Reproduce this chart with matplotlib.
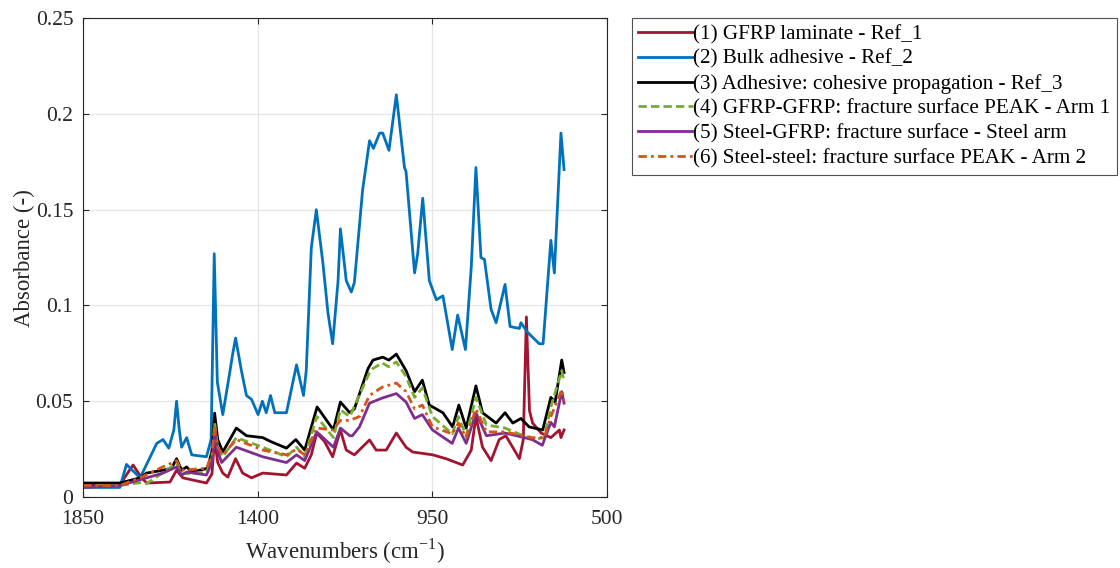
import matplotlib.pyplot as plt
from matplotlib.ticker import FixedLocator

# FTIR spectra, absorbance vs wavenumber (cm^-1)
wn_ref1 = [1850, 1755, 1747, 1721, 1699, 1686, 1626, 1609, 1593, 1532, 1518, 1511, 1503, 1490, 1477,
           1457, 1439, 1416, 1387, 1326, 1300, 1279, 1262, 1248, 1228, 1207, 1187, 1172, 1151, 1112,
           1095, 1069, 1043, 1018, 1001, 949, 915, 872, 850, 838, 821, 799, 778, 761, 739, 726, 716,
           708, 700, 692, 670, 645, 623, 619, 611]
ab_ref1 = [0.006, 0.006, 0.0089, 0.0167, 0.010, 0.0073, 0.0078, 0.014, 0.010, 0.0073, 0.012, 0.030,
           0.018, 0.0125, 0.0104, 0.020, 0.0125, 0.010, 0.0125, 0.0115, 0.0177, 0.015, 0.022, 0.0334,
           0.029, 0.021, 0.035, 0.0245, 0.022, 0.0298, 0.0245, 0.0245, 0.0334, 0.026, 0.0235, 0.022,
           0.020, 0.0167, 0.0245, 0.042, 0.026, 0.019, 0.030, 0.032, 0.0245, 0.020, 0.030, 0.094,
           0.045, 0.0386, 0.0334, 0.031, 0.035, 0.031, 0.035]

wn_ref2 = [1850, 1755, 1738, 1703, 1660, 1644, 1629, 1616, 1609, 1602, 1596, 1583, 1570, 1532, 1520,
           1512, 1504, 1490, 1472, 1465, 1457, 1442, 1429, 1416, 1399, 1388, 1378, 1367, 1356, 1326,
           1300, 1282, 1275, 1262, 1249, 1232, 1219, 1207, 1193, 1187, 1172, 1159, 1151, 1130, 1112,
           1102, 1086, 1078, 1062, 1043, 1022, 1018, 996, 988, 975, 958, 940, 923, 899, 885, 865,
           850, 838, 825, 816, 799, 786, 763, 750, 726, 722, 705, 675, 665, 645, 636, 619, 611]
ab_ref2 = [0.005, 0.005, 0.017, 0.010, 0.028, 0.030, 0.0255, 0.035, 0.050, 0.035, 0.026, 0.031,
           0.022, 0.021, 0.030, 0.127, 0.060, 0.043, 0.065, 0.074, 0.083, 0.066, 0.053, 0.051, 0.043,
           0.050, 0.044, 0.053, 0.044, 0.044, 0.069, 0.053, 0.066, 0.130, 0.150, 0.122, 0.096, 0.080,
           0.113, 0.140, 0.113, 0.107, 0.112, 0.160, 0.186, 0.182, 0.190, 0.190, 0.181, 0.210, 0.172,
           0.170, 0.117, 0.127, 0.156, 0.113, 0.103, 0.105, 0.077, 0.095, 0.077, 0.120, 0.172, 0.125,
           0.124, 0.098, 0.091, 0.111, 0.089, 0.088, 0.091, 0.086, 0.080, 0.080, 0.134, 0.117, 0.190,
           0.171]

wn_ref3 = [1850, 1755, 1703, 1686, 1644, 1622, 1609, 1596, 1583, 1570, 1529, 1518, 1511, 1503, 1490,
           1455, 1429, 1387, 1367, 1326, 1302, 1279, 1247, 1205, 1187, 1163, 1151, 1116, 1103, 1078,
           1062, 1043, 1018, 996, 976, 958, 923, 898, 882, 863, 838, 821, 786, 763, 743, 722, 701,
           666, 645, 634, 617, 611]
ab_ref3 = [0.0073, 0.0073, 0.010, 0.0125, 0.014, 0.015, 0.020, 0.014, 0.0157, 0.013, 0.015, 0.024,
           0.0438, 0.030, 0.0235, 0.036, 0.032, 0.031, 0.029, 0.0255, 0.030, 0.0245, 0.047, 0.035,
           0.0496, 0.044, 0.046, 0.067, 0.0715, 0.073, 0.0715, 0.0746, 0.066, 0.055, 0.061, 0.048,
           0.044, 0.0366, 0.048, 0.036, 0.058, 0.044, 0.0386, 0.044, 0.0386, 0.041, 0.0366, 0.035,
           0.052, 0.0496, 0.0715, 0.065]

wn_arm1 = [1850, 1755, 1703, 1686, 1660, 1609, 1596, 1532, 1518, 1511, 1503, 1490, 1455, 1387, 1326,
           1300, 1279, 1248, 1205, 1187, 1163, 1112, 1104, 1079, 1063, 1043, 1018, 996, 976, 950,
           899, 883, 863, 838, 811, 763, 693, 662, 645, 617, 611]
ab_arm1 = [0.006, 0.006, 0.0075, 0.007, 0.0105, 0.0177, 0.012, 0.013, 0.020, 0.0386, 0.026, 0.021,
           0.031, 0.026, 0.021, 0.026, 0.021, 0.042, 0.031, 0.0455, 0.042, 0.065, 0.067, 0.070, 0.068,
           0.0705, 0.063, 0.052, 0.057, 0.042, 0.033, 0.042, 0.032, 0.052, 0.0376, 0.036, 0.030, 0.031,
           0.047, 0.066, 0.060]

wn_steel = [1850, 1755, 1686, 1644, 1609, 1596, 1583, 1532, 1518, 1511, 1503, 1493, 1455, 1387,
            1326, 1300, 1279, 1248, 1205, 1187, 1163, 1156, 1138, 1112, 1079, 1043, 1018, 996, 976,
            950, 899, 883, 863, 838, 811, 763, 693, 667, 645, 636, 617, 611]
ab_steel = [0.005, 0.006, 0.010, 0.0125, 0.0157, 0.0115, 0.013, 0.0115, 0.018, 0.034, 0.024, 0.018,
            0.026, 0.021, 0.018, 0.022, 0.019, 0.034, 0.026, 0.036, 0.032, 0.032, 0.0366, 0.049,
            0.0517, 0.054, 0.0496, 0.041, 0.043, 0.035, 0.028, 0.036, 0.028, 0.044, 0.032, 0.0334,
            0.030, 0.027, 0.039, 0.0366, 0.055, 0.049]

wn_arm2 = [1850, 1755, 1703, 1652, 1609, 1596, 1532, 1518, 1511, 1503, 1490, 1455, 1387, 1326, 1300,
           1279, 1248, 1207, 1187, 1163, 1138, 1112, 1079, 1043, 1018, 996, 976, 950, 899, 883, 863,
           838, 811, 763, 693, 662, 645, 617, 611]
ab_arm2 = [0.006, 0.006, 0.010, 0.015, 0.019, 0.014, 0.015, 0.022, 0.036, 0.026, 0.022, 0.030,
           0.0245, 0.022, 0.025, 0.022, 0.036, 0.035, 0.040, 0.040, 0.042, 0.053, 0.0574, 0.0595,
           0.055, 0.046, 0.048, 0.0366, 0.033, 0.0386, 0.031, 0.046, 0.034, 0.034, 0.031, 0.031,
           0.042, 0.056, 0.050]

labels = ["(1) GFRP laminate - Ref_1",
          "(2) Bulk adhesive - Ref_2",
          "(3) Adhesive: cohesive propagation - Ref_3",
          "(4) GFRP-GFRP: fracture surface PEAK - Arm 1",
          "(5) Steel-GFRP: fracture surface - Steel arm",
          "(6) Steel-steel: fracture surface PEAK - Arm 2"]

x_ticks = [1850, 1400, 950, 500]
y_ticks = [0, 0.05, 0.1, 0.15, 0.2, 0.25]
y_tick_labels = ["0", "0.05", "0.1", "0.15", "0.2", "0.25"]

plt.rcParams['font.family'] = ['Liberation Serif', 'DejaVu Serif']
plt.rcParams['mathtext.fontset'] = 'custom'
plt.rcParams['mathtext.rm'] = 'Liberation Serif'

fig = plt.figure(figsize=(11.2, 5.68), dpi=100)
ax = fig.add_axes([0.0741, 0.125, 0.468, 0.843])

lw = 2.0
ax.plot(wn_ref1, ab_ref1, color='#A2142F', lw=lw, label=labels[0])
ax.plot(wn_ref2, ab_ref2, color='#0072BD', lw=lw, label=labels[1])
ax.plot(wn_ref3, ab_ref3, color='black', lw=lw, label=labels[2])
ax.plot(wn_arm1, ab_arm1, color='#77AC30', lw=lw, ls=(0, (3, 1.5)), label=labels[3])
ax.plot(wn_steel, ab_steel, color='#7E2F8E', lw=lw, label=labels[4])
ax.plot(wn_arm2, ab_arm2, color='#D95319', lw=lw, ls=(0, (3, 1.5, 1, 1.5)), label=labels[5])

ax.set_xlim(1850, 500)
ax.set_ylim(0, 0.25)
ax.xaxis.set_major_locator(FixedLocator(x_ticks))
ax.set_yticks(y_ticks)
ax.set_yticklabels(y_tick_labels)
ax.tick_params(direction='in', top=True, right=True, labelsize=15.5, length=4,
               colors='#262626', labelcolor='#262626')
ax.tick_params(axis='x', pad=9)
ax.tick_params(axis='y', pad=7)
ax.grid(True, color='#e6e6e6', lw=0.9)
ax.set_axisbelow(True)
for s in ax.spines.values():
    s.set_color('#262626')
    s.set_linewidth(0.8)

ax.set_xlabel("Wavenumbers (cm$^{\\mathregular{-1}}$)", fontsize=16.5, color='#262626', labelpad=6)
ax.set_ylabel("Absorbance (-)", fontsize=16.5, color='#262626', labelpad=0)

leg = fig.legend(loc='upper left', bbox_to_anchor=(632 / 1120, 1 - 18 / 568),
                 fontsize=15.2, frameon=True, fancybox=False, edgecolor='#262626',
                 handlelength=2.6, handletextpad=0.0, labelspacing=0.24, borderpad=0.3,
                 borderaxespad=0)
leg.get_frame().set_linewidth(0.8)

fig.savefig('out.png', dpi=100)
